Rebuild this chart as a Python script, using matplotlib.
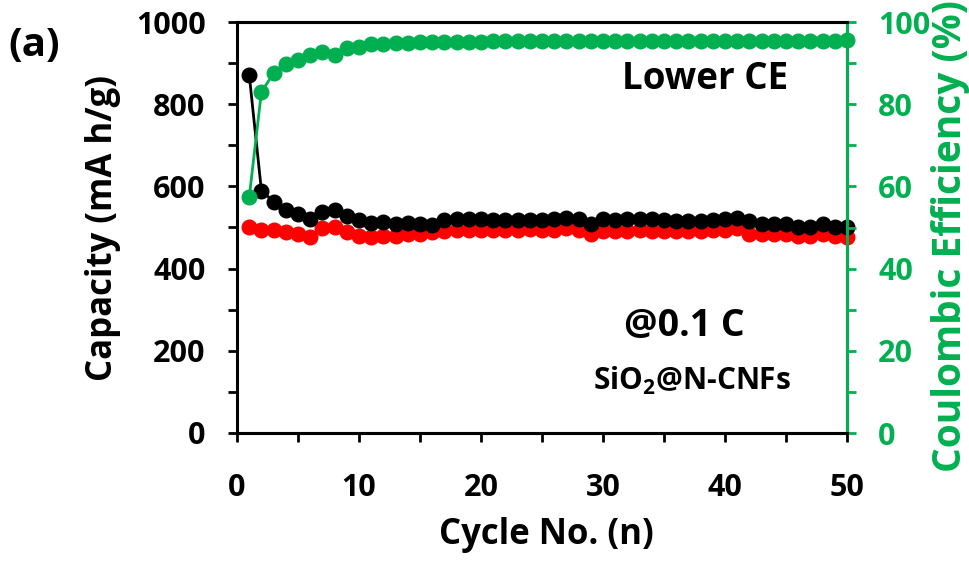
import matplotlib
matplotlib.use("Agg")
import matplotlib.pyplot as plt
from matplotlib.ticker import MultipleLocator

cycles = list(range(1, 51))
charge = [872, 590, 563, 543, 532, 521, 538, 543, 527, 518,
          510, 513, 508, 510, 508, 506, 518, 521, 521, 520,
          519, 518, 518, 519, 518, 521, 524, 521, 508, 521,
          519, 521, 521, 521, 518, 516, 516, 516, 518, 521,
          524, 516, 508, 508, 508, 502, 502, 508, 502, 500]
discharge = [502, 494, 494, 488, 483, 478, 498, 502, 488, 480,
             478, 480, 480, 483, 485, 488, 491, 494, 494, 494,
             494, 494, 494, 496, 494, 494, 498, 494, 483, 491,
             491, 492, 493, 492, 491, 491, 492, 492, 494, 494,
             498, 485, 483, 483, 483, 480, 480, 483, 480, 478]
ce = [57.3, 83.0, 87.5, 89.8, 90.8, 92.0, 92.8, 92.0, 93.6, 94.0,
      94.6, 94.6, 94.8, 95.0, 95.1, 95.2, 95.2, 95.2, 95.2, 95.2,
      95.3, 95.3, 95.3, 95.3, 95.3, 95.3, 95.3, 95.3, 95.3, 95.3,
      95.3, 95.3, 95.3, 95.3, 95.3, 95.3, 95.3, 95.3, 95.3, 95.3,
      95.3, 95.3, 95.3, 95.3, 95.3, 95.3, 95.3, 95.3, 95.3, 95.5]

GREEN = "#00B050"
RED = "#FF0000"
plt.rcParams['font.family'] = ['Open Sans', 'DejaVu Sans']
plt.rcParams['font.weight'] = 'bold'
plt.rcParams['mathtext.fontset'] = 'custom'
plt.rcParams['mathtext.bf'] = 'Open Sans:bold'

W, H = 969, 561
fig = plt.figure(figsize=(W / 100, H / 100), dpi=100)
ax = fig.add_axes([237 / W, 1 - 433 / H, (847 - 237) / W, (433 - 22) / H])
ax2 = ax.twinx()

ms = 10.5
ax.plot(cycles, discharge, '-o', color=RED, ms=ms, lw=2, clip_on=False, zorder=3)
ax.plot(cycles, charge, '-o', color='black', ms=ms, lw=2, clip_on=False, zorder=4)
ax2.plot(cycles, ce, '-o', color=GREEN, ms=ms, lw=2, clip_on=False, zorder=3)

ax.set_xlim(0, 50)
ax.set_ylim(0, 1000)
ax2.set_ylim(0, 100)

ax.xaxis.set_major_locator(MultipleLocator(10))
ax.xaxis.set_minor_locator(MultipleLocator(5))
ax.yaxis.set_major_locator(MultipleLocator(200))
ax.yaxis.set_minor_locator(MultipleLocator(100))
ax2.yaxis.set_major_locator(MultipleLocator(20))
ax2.yaxis.set_minor_locator(MultipleLocator(10))

for a in (ax, ax2):
    for s in a.spines.values():
        s.set_linewidth(2.2)
ax2.spines['right'].set_color(GREEN)
ax2.spines['left'].set_visible(False)

tl = 6.5
tw = 2.0
fs = 22
ax.tick_params(axis='both', which='both', direction='out', length=tl, width=tw,
               labelsize=fs, pad=16)
ax.tick_params(axis='x', which='both', pad=22)
ax2.tick_params(axis='y', which='both', direction='out', length=tl, width=tw,
                color=GREEN, labelcolor=GREEN, labelsize=fs, pad=16)
for lab in ax.get_xticklabels() + ax.get_yticklabels() + ax2.get_yticklabels():
    lab.set_fontweight('bold')

lfs = 25
fig.text(546 / W, 1 - 535 / H, 'Cycle No. (n)', fontsize=lfs, fontweight='bold',
         ha='center', va='center')
fig.text(103 / W, 1 - 228 / H, 'Capacity (mA h/g)', fontsize=lfs, fontweight='bold',
         ha='center', va='center', rotation=90)
fig.text(950 / W, 1 - 236 / H, 'Coulombic Efficiency (%)', fontsize=28,
         fontweight='bold', color=GREEN, ha='center', va='center', rotation=90)

fig.text(705 / W, 1 - 79 / H, 'Lower CE', fontsize=26.5, fontweight='bold',
         ha='center', va='center')
fig.text(684 / W, 1 - 326 / H, '@0.1 C', fontsize=27, fontweight='bold',
         ha='center', va='center')
fig.text(692 / W, 1 - 381 / H, 'SiO$_\\mathbf{2}$@N-CNFs', fontsize=21.5,
         fontweight='bold', ha='center', va='center')
fig.text(34 / W, 1 - 46 / H, '(a)', fontsize=29, fontweight='bold',
         ha='center', va='center')

fig.savefig('out.png', dpi=100)
